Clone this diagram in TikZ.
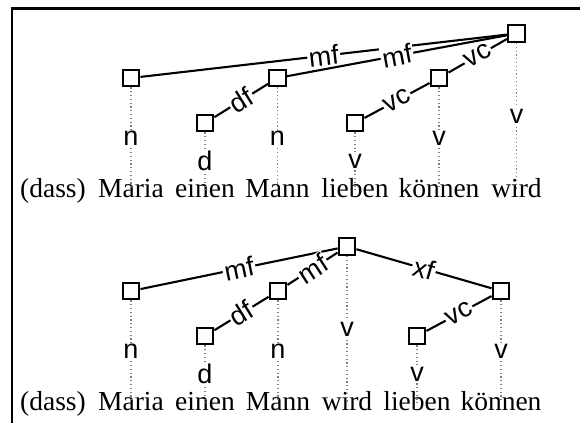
\documentclass[tikz,border=0pt]{standalone}
\usepackage{fontspec}
\setmainfont{Liberation Serif}
\setsansfont{Liberation Sans}
\begin{document}
\begin{tikzpicture}[x=1pt,y=-1pt,
  box/.style={draw, line width=2.4pt, fill=white, minimum size=16.5pt, inner sep=0pt},
  edge/.style={line width=2.1pt},
  elab/.style={font=\sffamily\fontsize{27}{27}\selectfont, fill=white, inner sep=1.5pt, sloped, midway, text=black},
  dotline/.style={gray, line width=1.2pt, dash pattern=on 1.2pt off 2.6pt},
  tlab/.style={font=\sffamily\fontsize{27}{27}\selectfont, fill=white, inner sep=1.5pt, midway, text=black},
  word/.style={font=\fontsize{27.5}{27.5}\selectfont, anchor=base, inner sep=0pt, text height=0.7em},
  frame/.style={line width=2.2pt}]
\useasboundingbox (0,0) rectangle (580,423);
\coordinate (fr1) at (580,8.5);
\coordinate (fr2) at (12,8.5);
\coordinate (fr3) at (12,423);
\draw[frame] (fr1) -- (fr2) -- (fr3);

% ---------- top panel ----------
\node[box] (tW)  at (516.5,33.5) {};
\node[box] (tMa) at (131,78) {};
\node[box] (tMn) at (277.5,78) {};
\node[box] (tK)  at (439,78) {};
\node[box] (tE)  at (205,123) {};
\node[box] (tL)  at (355,123) {};

\node[word] (tw0) at (53,197) {(dass)};
\node[word] (tw1) at (131,197) {Maria};
\node[word] (tw2) at (205,197) {einen};
\node[word] (tw3) at (277.5,197) {Mann};
\node[word] (tw4) at (355,197) {lieben};
\node[word] (tw5) at (439,197) {können};
\node[word] (tw6) at (516.5,197) {wird};

\draw[dotline] (tMa.south) -- node[tlab]{n} (tMa.south |- tw1.north);
\draw[dotline] (tE.south)  -- node[tlab]{d} (tE.south |- tw2.north);
\draw[dotline] (tMn.south) -- node[tlab]{n} (tMn.south |- tw3.north);
\draw[dotline] (tL.south)  -- node[tlab]{v} (tL.south |- tw4.north);
\draw[dotline] (tK.south)  -- node[tlab]{v} (tK.south |- tw5.north);
\draw[dotline] (tW.south)  -- node[tlab]{v} (tW.south |- tw6.north);

\draw[edge] (tMa) -- node[elab]{mf} (tW);
\draw[edge] (tMn) -- node[elab]{mf} (tW);
\draw[edge] (tE)  -- node[elab]{df} (tMn);
\draw[edge] (tL)  -- node[elab]{vc} (tK);
\draw[edge] (tK)  -- node[elab]{vc} (tW);

% ---------- bottom panel ----------
\node[box] (bR)  at (347,246.5) {};
\node[box] (bMa) at (131,291) {};
\node[box] (bMn) at (278,291) {};
\node[box] (bK)  at (501,291) {};
\node[box] (bE)  at (205,336) {};
\node[box] (bL)  at (417,336) {};

\node[word] (bw0) at (53,410) {(dass)};
\node[word] (bw1) at (131,410) {Maria};
\node[word] (bw2) at (205,410) {einen};
\node[word] (bw3) at (278,410) {Mann};
\node[word] (bw4) at (347,410) {wird};
\node[word] (bw5) at (417,410) {lieben};
\node[word] (bw6) at (501,410) {können};

\draw[dotline] (bMa.south) -- node[tlab]{n} (bMa.south |- bw1.north);
\draw[dotline] (bE.south)  -- node[tlab]{d} (bE.south |- bw2.north);
\draw[dotline] (bMn.south) -- node[tlab]{n} (bMn.south |- bw3.north);
\draw[dotline] (bR.south)  -- node[tlab]{v} (bR.south |- bw4.north);
\draw[dotline] (bL.south)  -- node[tlab]{v} (bL.south |- bw5.north);
\draw[dotline] (bK.south)  -- node[tlab]{v} (bK.south |- bw6.north);

\draw[edge] (bMa) -- node[elab]{mf} (bR);
\draw[edge] (bMn) -- node[elab]{mf} (bR);
\draw[edge] (bE)  -- node[elab]{df} (bMn);
\draw[edge] (bR)  -- node[elab]{xf} (bK);
\draw[edge] (bL)  -- node[elab]{vc} (bK);
\end{tikzpicture}
\end{document}
